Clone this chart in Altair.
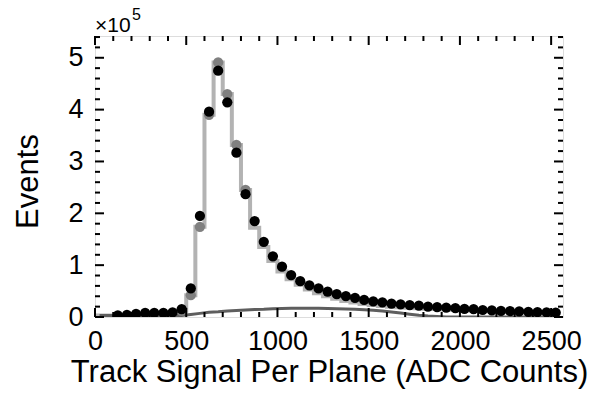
import altair as alt
import pandas as pd

# ---- data (values in units of 1e5 events) ----
bin_width = 50
data_centers = [125 + 50 * i for i in range(49)]
data_values = [0.03, 0.04, 0.06, 0.08, 0.08, 0.08, 0.09, 0.15, 0.55, 1.95,
               3.96, 4.75, 4.14, 3.17, 2.37, 1.85, 1.45, 1.17, 0.97, 0.81,
               0.69, 0.61, 0.55, 0.49, 0.44, 0.405, 0.37, 0.33, 0.30, 0.28,
               0.26, 0.245, 0.23, 0.22, 0.20, 0.19, 0.18, 0.17, 0.155, 0.15,
               0.135, 0.13, 0.12, 0.115, 0.11, 0.10, 0.095, 0.09, 0.085]

mc_centers = [25 + 50 * i for i in range(51)]
mc_values = [0.03, 0.03, 0.03, 0.04, 0.05, 0.06, 0.06, 0.07, 0.08, 0.12,
             0.42, 1.74, 3.90, 4.91, 4.30, 3.32, 2.45, 1.72, 1.35, 1.08,
             0.88, 0.73, 0.62, 0.53, 0.46, 0.40, 0.35, 0.31, 0.28, 0.25,
             0.23, 0.21, 0.20, 0.19, 0.18, 0.17, 0.16, 0.155, 0.145, 0.14,
             0.13, 0.125, 0.115, 0.11, 0.10, 0.095, 0.09, 0.085, 0.08, 0.075, 0.07]

mcpt_centers = [475, 525, 575, 625, 675, 725, 775, 825]
mcpt_values = [0.12, 0.42, 1.74, 3.90, 4.91, 4.30, 3.32, 2.45]

bg_centers = [25 + 50 * i for i in range(51)]
bg_values = [0.03, 0.03, 0.03, 0.03, 0.03, 0.03, 0.03, 0.03, 0.03, 0.03,
             0.05, 0.07, 0.09, 0.10, 0.115, 0.125, 0.135, 0.145, 0.15, 0.16,
             0.165, 0.17, 0.17, 0.17, 0.17, 0.165, 0.16, 0.155, 0.15, 0.14,
             0.13, 0.115, 0.095, 0.075, 0.055, 0.035, 0.02, 0.01, 0.0, 0.0,
             0.0, 0.0, 0.0, 0.0, 0.0, 0.0, 0.0, 0.0, 0.0, 0.0, 0.0]

x_tick_labels = [0, 500, 1000, 1500, 2000, 2500]
y_tick_labels = [0, 1, 2, 3, 4, 5]
x_minor = [v for v in range(0, 2600, 100) if v % 500 != 0]
y_minor = [round(v * 0.2, 1) for v in range(0, 28) if v % 5 != 0]

W, H = 468, 281
FONT = "Liberation Sans"

# ---- tables ----
df_data = pd.DataFrame({"x": data_centers, "y": data_values})
edges = [c - bin_width / 2 for c in mc_centers] + [mc_centers[-1] + bin_width / 2]
df_mc = pd.DataFrame({"x": edges, "y": mc_values + [mc_values[-1]]})
df_mcpt = pd.DataFrame({"x": mcpt_centers, "y": mcpt_values})
df_bg = pd.DataFrame({"x": bg_centers, "y": bg_values})

xs = alt.Scale(domain=[0, 2565], nice=False, zero=False)
ys = alt.Scale(domain=[0, 5.42], nice=False, zero=False)

x_axis = alt.Axis(values=x_tick_labels, format="d", ticks=False, domain=False,
                  grid=False, labelFontSize=27, labelFont=FONT, labelColor="black",
                  labelFontWeight="normal", labelPadding=11,
                  title="Track Signal Per Plane (ADC Counts)",
                  titleFontSize=31, titleFont=FONT, titleFontWeight="normal",
                  titleColor="black", titlePadding=3, labelFlush=False)
y_axis = alt.Axis(values=y_tick_labels, format="d", ticks=False, domain=False,
                  grid=False, labelFontSize=27, labelFont=FONT, labelColor="black",
                  labelFontWeight="normal", labelPadding=12, title="Events",
                  titleFontSize=31, titleFont=FONT, titleFontWeight="normal",
                  titleColor="black", titleX=-58, titleY=145, titleAngle=270,
                  titleAlign="center", titleBaseline="alphabetic",
                  labelFlush=False)

hist = alt.Chart(df_mc).mark_line(interpolate="step-after", color="#b3b3b3",
                                  strokeWidth=4, clip=True).encode(
    x=alt.X("x:Q", scale=xs, axis=x_axis),
    y=alt.Y("y:Q", scale=ys, axis=y_axis),
)
bg = alt.Chart(df_bg).mark_line(color="#5e5e5e", strokeWidth=3, clip=True).encode(
    x=alt.X("x:Q", scale=xs), y=alt.Y("y:Q", scale=ys))
mcpts = alt.Chart(df_mcpt).mark_circle(color="#808080", opacity=1, size=105,
                                       clip=True).encode(
    x=alt.X("x:Q", scale=xs), y=alt.Y("y:Q", scale=ys))
pts = alt.Chart(df_data).mark_circle(color="black", opacity=1, size=105,
                                     clip=True).encode(
    x=alt.X("x:Q", scale=xs), y=alt.Y("y:Q", scale=ys))

# ---- inward ticks on all four sides ----
def xticks(vals, length):
    d = pd.DataFrame({"x": vals})
    bottom = alt.Chart(d).mark_rule(color="black", strokeWidth=2).encode(
        x=alt.X("x:Q", scale=xs), y=alt.value(H), y2=alt.value(H - length))
    top = alt.Chart(d).mark_rule(color="black", strokeWidth=2).encode(
        x=alt.X("x:Q", scale=xs), y=alt.value(0), y2=alt.value(length))
    return [bottom, top]

def yticks(vals, length):
    d = pd.DataFrame({"y": vals})
    left = alt.Chart(d).mark_rule(color="black", strokeWidth=2).encode(
        y=alt.Y("y:Q", scale=ys), x=alt.value(0), x2=alt.value(length))
    right = alt.Chart(d).mark_rule(color="black", strokeWidth=2).encode(
        y=alt.Y("y:Q", scale=ys), x=alt.value(W), x2=alt.value(W - length))
    return [left, right]

tick_layers = (xticks(x_tick_labels, 9) + xticks(x_minor, 5)
               + yticks(y_tick_labels, 9) + yticks(y_minor, 5))

one = pd.DataFrame({"t": [0]})
mult = alt.Chart(one).mark_text(text="×10", font=FONT, align="left",
                                baseline="alphabetic", color="black").encode(
    x=alt.value(0), y=alt.value(-4), size=alt.value(21))
expo = alt.Chart(one).mark_text(text="5", font=FONT, align="left",
                                baseline="alphabetic", color="black").encode(
    x=alt.value(37), y=alt.value(-16), size=alt.value(16))

chart = alt.layer(hist, bg, mcpts, pts, *tick_layers, mult, expo).properties(
    width=W, height=H,
    autosize=alt.AutoSizeParams(type="none"),
    padding={"left": 95, "top": 36, "right": 30, "bottom": 82},
).configure_view(stroke="black", strokeWidth=2.5).configure(background="white")

chart.save("out.html", embed_options={"renderer": "svg", "actions": False})
